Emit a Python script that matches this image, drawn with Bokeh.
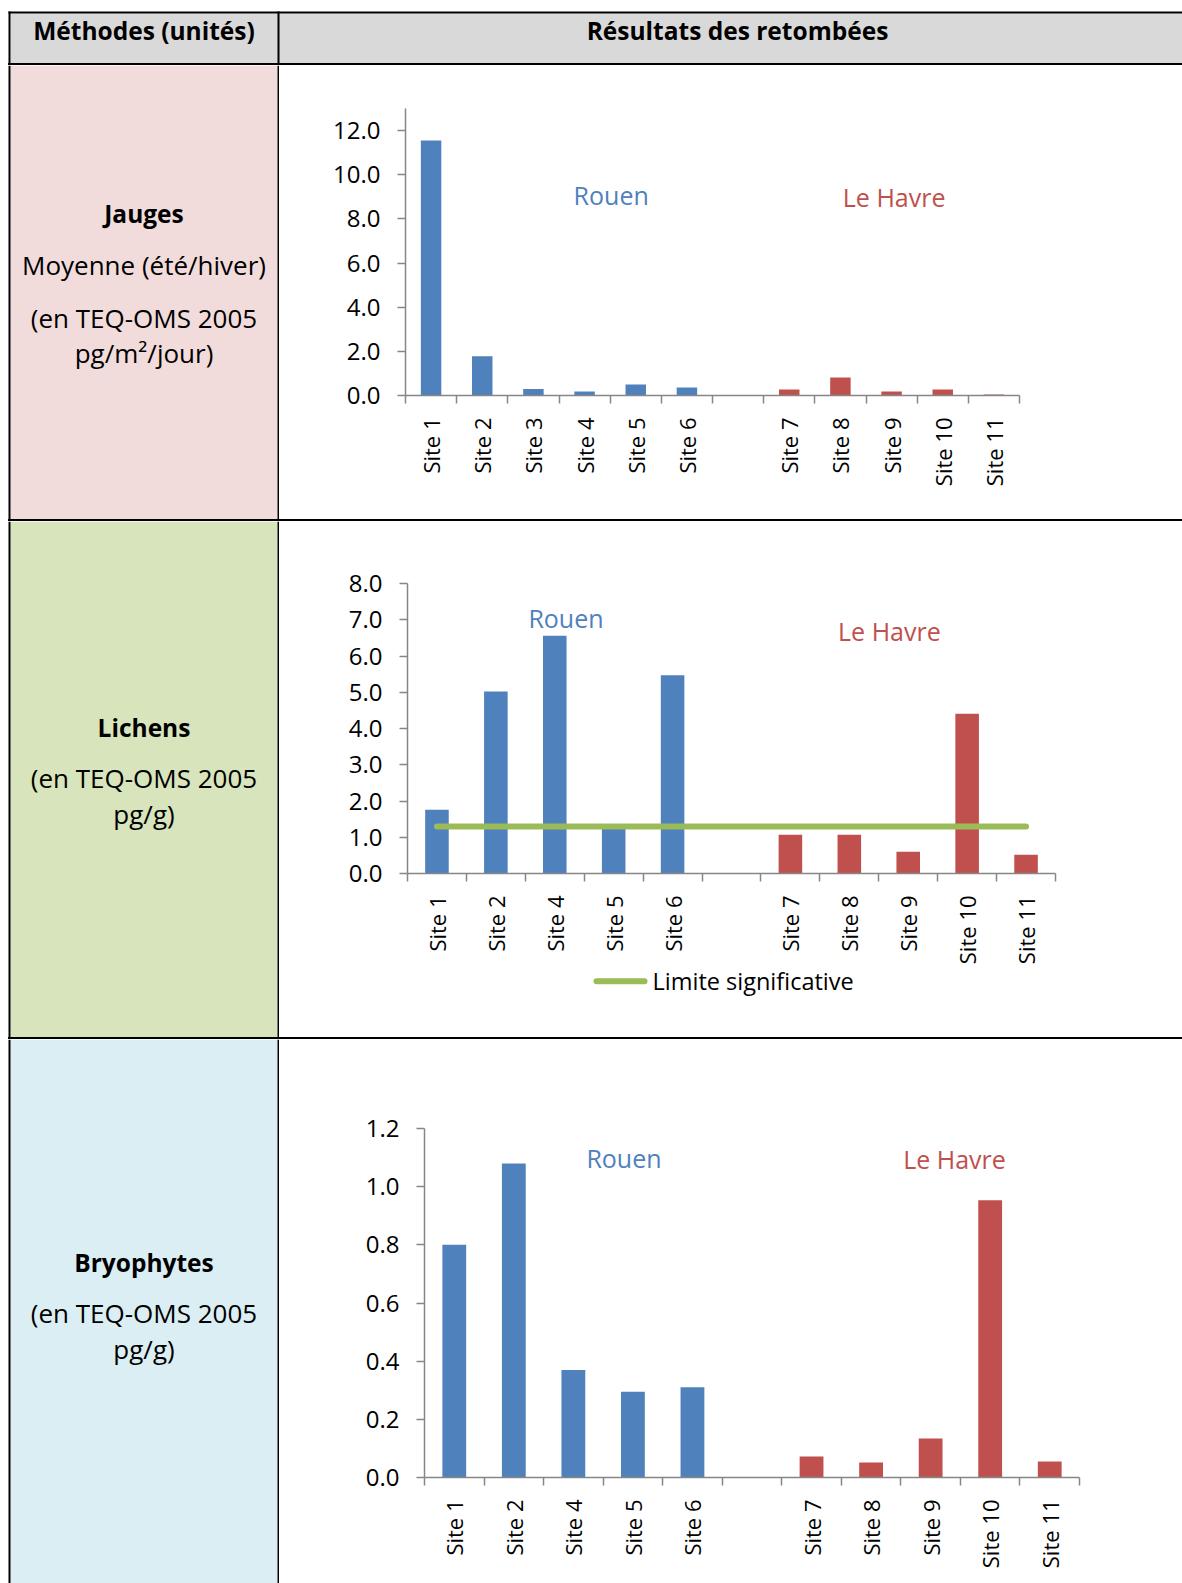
from math import pi

from bokeh.core.properties import value
from bokeh.embed import file_html
from bokeh.layouts import column, row
from bokeh.models import Div, FixedTicker, NumeralTickFormatter, Range1d
from bokeh.plotting import figure
from bokeh.resources import INLINE

FONT = "Open Sans"
BLUE = "#4F81BD"
RED = "#C0504D"
GREEN = "#9BBB59"
AXIS = "#868686"

# ---------------------------------------------------------------- data
jauges_rouen_sites = ["Site 1", "Site 2", "Site 3", "Site 4", "Site 5", "Site 6"]
jauges_rouen = [11.55, 1.78, 0.29, 0.18, 0.50, 0.36]
jauges_havre_sites = ["Site 7", "Site 8", "Site 9", "Site 10", "Site 11"]
jauges_havre = [0.27, 0.82, 0.18, 0.27, 0.05]
jauges_yticks = [0, 2, 4, 6, 8, 10, 12]

lichens_rouen_sites = ["Site 1", "Site 2", "Site 4", "Site 5", "Site 6"]
lichens_rouen = [1.76, 5.02, 6.56, 1.30, 5.47]
lichens_havre_sites = ["Site 7", "Site 8", "Site 9", "Site 10", "Site 11"]
lichens_havre = [1.07, 1.07, 0.60, 4.41, 0.52]
lichens_limit = 1.3
lichens_yticks = [0, 1, 2, 3, 4, 5, 6, 7, 8]

bryo_rouen_sites = ["Site 1", "Site 2", "Site 4", "Site 5", "Site 6"]
bryo_rouen = [0.80, 1.08, 0.37, 0.295, 0.31]
bryo_havre_sites = ["Site 7", "Site 8", "Site 9", "Site 10", "Site 11"]
bryo_havre = [0.072, 0.052, 0.134, 0.953, 0.055]
bryo_yticks = [0.0, 0.2, 0.4, 0.6, 0.8, 1.0, 1.2]

PAGE_W = 1182
LEFT_W = 279
RIGHT_W = PAGE_W - LEFT_W


def blank(width, height, x_end, y_end, fill="white", alpha=1.0):
    p = figure(width=width, height=height, x_range=Range1d(0, x_end), y_range=Range1d(y_end, 0),
               output_backend="svg", toolbar_location=None, min_border=0, frame_align=False,
               x_axis_location=None, y_axis_location=None, outline_line_color=None)
    p.grid.visible = False
    p.background_fill_color = fill
    p.border_fill_color = fill
    p.background_fill_alpha = alpha
    p.border_fill_alpha = alpha
    return p


def cell_text(p, x, y, txt, size="26px", bold=False, align="center"):
    p.text(x=[x], y=[y], text=[txt], text_font=value(FONT), text_font_size=size,
           text_font_style="bold" if bold else "normal", text_color="black",
           text_align=align, text_baseline="middle")


def header():
    h = 63
    p = blank(PAGE_W, h, PAGE_W, h)
    p.quad(left=10, right=PAGE_W, top=13, bottom=h, fill_color="#D9D9D9", line_color=None)
    p.quad(left=8, right=PAGE_W, top=11, bottom=13, fill_color="black", line_color=None)
    p.quad(left=8, right=10, top=11, bottom=h, fill_color="black", line_color=None)
    p.quad(left=277, right=279, top=11, bottom=h, fill_color="black", line_color=None)
    cell_text(p, 143.5, 29.5, "Méthodes (unités)", size="24.5px", bold=True)
    cell_text(p, 737, 29.5, "Résultats des retombées", size="24.5px", bold=True)
    return p


def separator():
    # horizontal rule between table rows
    return Div(text="", width=PAGE_W - 8, height=2, margin=(0, 0, 0, 8),
               styles={"background-color": "black", "overflow": "hidden"})


def left_cell(h, fill, lines):
    p = blank(LEFT_W, h, LEFT_W, h)
    p.quad(left=10, right=277, top=0, bottom=h, fill_color=fill, line_color=None)
    p.quad(left=8, right=10, top=0, bottom=h, fill_color="black", line_color=None)
    p.quad(left=277, right=279, top=0, bottom=h, fill_color="black", line_color=None)
    for txt, y, bold in lines:
        cell_text(p, 143.5, y, txt, size="24.5px" if bold else "26px", bold=bold)
    return p


def bar_chart(height, borders, rouen_sites, rouen_vals, havre_sites, havre_vals,
              y_end, y_ticks, rouen_pos, havre_pos):
    left, right, top, bottom = borders
    n_r, n_h = len(rouen_sites), len(havre_sites)
    n = n_r + 1 + n_h
    xr = list(range(n_r))
    xh = [n_r + 1 + i for i in range(n_h)]

    p = figure(width=RIGHT_W, height=height, x_range=Range1d(-0.5, n - 0.5), y_range=Range1d(0, y_end),
               output_backend="svg", toolbar_location=None, frame_align=False,
               min_border_left=left, min_border_right=right, min_border_top=top, min_border_bottom=bottom)
    p.outline_line_color = None
    p.grid.visible = False

    p.vbar(x=xr, top=rouen_vals, width=0.4, fill_color=BLUE, line_color=None)
    p.vbar(x=xh, top=havre_vals, width=0.4, fill_color=RED, line_color=None)

    p.text(x=[rouen_pos[0]], y=[rouen_pos[1]], text=["Rouen"], text_font=value(FONT),
           text_font_size="25px", text_color=BLUE, text_align="center", text_baseline="middle")
    p.text(x=[havre_pos[0]], y=[havre_pos[1]], text=["Le Havre"], text_font=value(FONT),
           text_font_size="25px", text_color=RED, text_align="center", text_baseline="middle")

    xa = p.xaxis[0]
    xa.ticker = FixedTicker(ticks=xr + xh, minor_ticks=[k - 0.5 for k in range(n + 1)])
    xa.major_label_overrides = {x: s for x, s in zip(xr + xh, rouen_sites + havre_sites)}
    xa.major_tick_out = 0
    xa.major_tick_in = 0
    xa.major_tick_line_color = None
    xa.minor_tick_out = 8
    xa.minor_tick_in = 0
    xa.minor_tick_line_color = AXIS
    xa.minor_tick_line_width = 1.5
    xa.major_label_orientation = pi / 2
    xa.major_label_standoff = 14
    xa.major_label_text_font_size = "22px"

    ya = p.yaxis[0]
    ya.ticker = FixedTicker(ticks=y_ticks)
    ya.formatter = NumeralTickFormatter(format="0.0")
    ya.major_tick_out = 8
    ya.major_tick_in = 0
    ya.major_tick_line_color = AXIS
    ya.major_tick_line_width = 1.5
    ya.minor_tick_line_color = None
    ya.major_label_standoff = 17
    ya.major_label_text_font_size = "24px"

    for ax in (xa, ya):
        ax.axis_line_color = AXIS
        ax.axis_line_width = 1.5
        ax.major_label_text_font = FONT
        ax.major_label_text_color = "black"
    return p, xr + xh


# ---------------------------------------------------------------- rows
H1, H2, H3 = 454, 516, 544
H2_CHART = 447
LEGEND_OVERLAP = 10
H2_LEGEND = H2 - H2_CHART + LEGEND_OVERLAP

left1 = left_cell(H1, "#F2DCDB", [
    ("Jauges", 148, True),
    ("Moyenne (été/hiver)", 199.5, False),
    ("(en TEQ-OMS 2005", 252, False),
    ("pg/m²/jour)", 287.3, False),
])
chart1, _ = bar_chart(H1, (126, 163, 43, H1 - 43 - 287),
                      jauges_rouen_sites, jauges_rouen, jauges_havre_sites, jauges_havre,
                      13, jauges_yticks, (3.52, 9.06), (9.05, 8.97))

left2 = left_cell(H2, "#D7E4BC", [
    ("Lichens", 206, True),
    ("(en TEQ-OMS 2005", 256, False),
    ("pg/g)", 292.6, False),
])
chart2, centers2 = bar_chart(H2_CHART, (128, 127, 62, H2_CHART - 62 - 290),
                             lichens_rouen_sites, lichens_rouen, lichens_havre_sites, lichens_havre,
                             8, lichens_yticks, (2.19, 7.05), (7.68, 6.68))
limit_style = dict(line_color=GREEN, line_width=6, line_cap="round")
chart2.line(x=[centers2[0], centers2[-1]], y=[lichens_limit, lichens_limit], **limit_style)

# transparent legend strip tucked under the lichens chart: key line and its label
legend_fig = blank(RIGHT_W, H2_LEGEND, RIGHT_W, H2_LEGEND, alpha=0.0)
legend_fig.margin = (-LEGEND_OVERLAP, 0, 0, 0)
legend_fig.line(x=[317, 365], y=[22.7, 22.7], **limit_style)
cell_text(legend_fig, 373, 22.7, "Limite significative", size="23.5px", align="left")

left3 = left_cell(H3, "#DBEEF3", [
    ("Bryophytes", 223, True),
    ("(en TEQ-OMS 2005", 273, False),
    ("pg/g)", 309.6, False),
])
chart3, _ = bar_chart(H3, (145, 103, 89, H3 - 89 - 349),
                      bryo_rouen_sites, bryo_rouen, bryo_havre_sites, bryo_havre,
                      1.2, bryo_yticks, (2.85, 1.098), (8.40, 1.094))

page = column(
    header(),
    separator(),
    row(left1, chart1, spacing=0),
    separator(),
    row(left2, column(chart2, legend_fig, spacing=0), spacing=0),
    separator(),
    row(left3, chart3, spacing=0),
    spacing=0,
)

open("out.html", "w").write(file_html(page, INLINE))
